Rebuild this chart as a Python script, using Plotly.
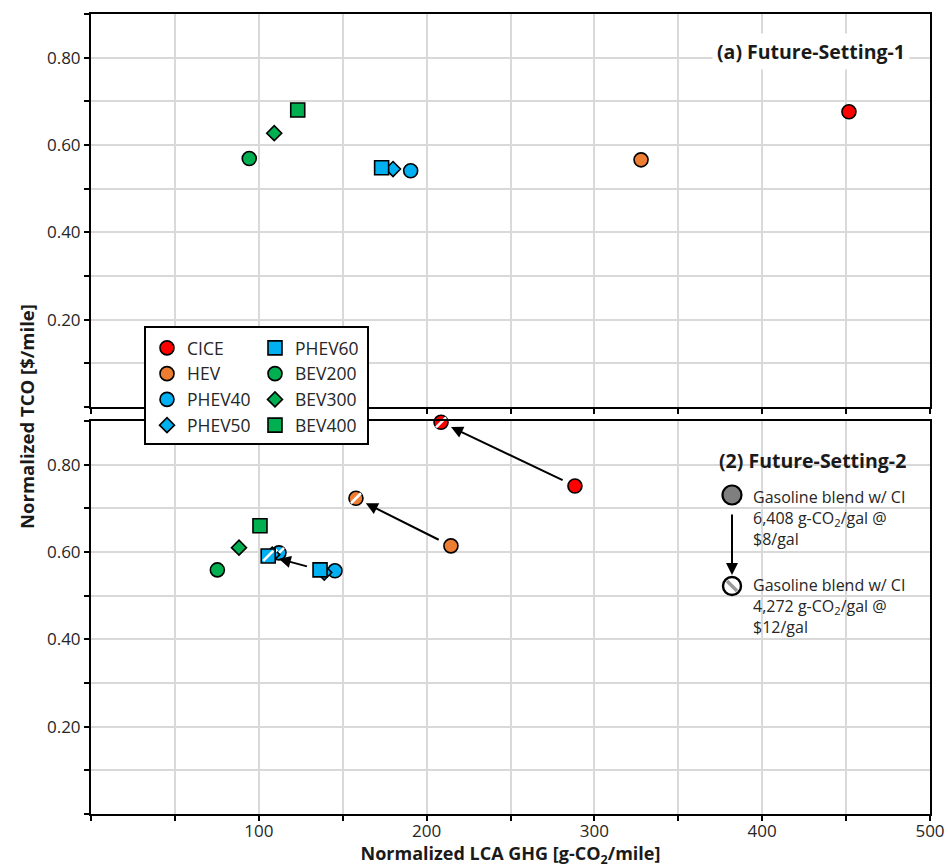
import plotly.graph_objects as go
from plotly.subplots import make_subplots

# ---------------- data ----------------
vehicles = ["CICE", "HEV", "PHEV40", "PHEV50", "PHEV60", "BEV200", "BEV300", "BEV400"]
colors = ["#FF0000", "#ED7D31", "#00B0F0", "#00B0F0", "#00B0F0", "#00B050", "#00B050", "#00B050"]
symbols = ["circle", "circle", "circle", "diamond", "square", "circle", "diamond", "square"]

# (a) Future-Setting-1
fs1_ghg = [451.7, 327.8, 190.5, 180.0, 173.2, 94.3, 109.2, 123.2]
fs1_tco = [0.676, 0.566, 0.541, 0.545, 0.548, 0.569, 0.627, 0.680]

# (2) Future-Setting-2, gasoline blend CI 6,408 g-CO2/gal @ $8/gal
fs2_ghg = [288.4, 214.5, 145.4, 139.0, 136.5, 75.3, 88.2, 100.7]
fs2_tco = [0.751, 0.614, 0.557, 0.553, 0.559, 0.559, 0.610, 0.660]

# (2) Future-Setting-2, gasoline blend CI 4,272 g-CO2/gal @ $12/gal (hatched)
blend_vehicles = ["CICE", "HEV", "PHEV40", "PHEV50", "PHEV60"]
blend_ghg = [208.6, 157.9, 112.0, 108.0, 105.6]
blend_tco = [0.897, 0.723, 0.598, 0.594, 0.591]

arrow_vehicles = ["CICE", "HEV", "PHEV60"]

x_tickvals = [0, 50, 100, 150, 200, 250, 300, 350, 400, 450, 500]
x_ticktext = ["", "", "100", "", "200", "", "300", "", "400", "", "500"]
y_tickvals = [0, 0.1, 0.2, 0.3, 0.4, 0.5, 0.6, 0.7, 0.8, 0.9]
y_ticktext = ["", "", "0.20", "", "0.40", "", "0.60", "", "0.80", ""]

legend1_names = ["CICE", "HEV", "PHEV40", "PHEV50"]

# ---------------- figure ----------------
W, H = 948, 868
ML, MR, MT, MB = 91, 18, 14, 54
PW, PH = W - ML - MR, H - MT - MB


def px_x(p):
    return (p - ML) / PW


def px_y(p):
    return (H - MB - p) / PH


fig = make_subplots(rows=2, cols=1)

marker_size = {"circle": 14, "square": 14, "diamond": 11.5}

for i, v in enumerate(vehicles):
    leg = "legend" if v in legend1_names else "legend2"
    mk = dict(color=colors[i], symbol=symbols[i], size=marker_size[symbols[i]],
              line=dict(color="black", width=1.6))
    fig.add_trace(go.Scatter(x=[fs1_ghg[i]], y=[fs1_tco[i]], mode="markers", name=v,
                             marker=mk, legend=leg, showlegend=True, cliponaxis=False),
                  row=1, col=1)
    fig.add_trace(go.Scatter(x=[fs2_ghg[i]], y=[fs2_tco[i]], mode="markers", name=v,
                             marker=mk, showlegend=False, cliponaxis=False),
                  row=2, col=1)

for j, v in enumerate(blend_vehicles):
    i = vehicles.index(v)
    mk = dict(color=colors[i], symbol=symbols[i], size=marker_size[symbols[i]],
              line=dict(color="black", width=1.6))
    fig.add_trace(go.Scatter(x=[blend_ghg[j]], y=[blend_tco[j]], mode="markers", name=v,
                             marker=mk, showlegend=False, cliponaxis=False),
                  row=2, col=1)
    fig.add_trace(go.Scatter(x=[blend_ghg[j]], y=[blend_tco[j]], mode="markers", name=v,
                             marker=dict(symbol="line-ne", size=10, color="white",
                                         line=dict(color="white", width=2.6)),
                             showlegend=False, cliponaxis=False, hoverinfo="skip"),
                  row=2, col=1)

annotations = []
for v in arrow_vehicles:
    i = vehicles.index(v)
    j = blend_vehicles.index(v)
    annotations.append(dict(
        x=blend_ghg[j], y=blend_tco[j], ax=fs2_ghg[i], ay=fs2_tco[i],
        xref="x2", yref="y2", axref="x2", ayref="y2", text="", showarrow=True,
        arrowhead=2, arrowsize=1.2, arrowwidth=2, arrowcolor="black",
        standoff=11, startstandoff=12))

font_family = "Open Sans"

annotations += [
    dict(text="<b>(a) Future-Setting-1</b>", x=px_x(811), y=px_y(51), xref="paper", yref="paper",
         xanchor="center", yanchor="middle",
         showarrow=False, font=dict(size=19.5, color="#1a1a1a"), bgcolor="white", borderpad=4),
    dict(text="<b>(2) Future-Setting-2</b>", x=px_x(812), y=px_y(460), xref="paper", yref="paper",
         xanchor="center", yanchor="middle",
         showarrow=False, font=dict(size=19.5, color="#1a1a1a")),
    dict(text="Gasoline blend w/ CI<br>6,408 g-CO<sub>2</sub>/gal @<br>$8/gal",
         x=px_x(751), y=px_y(518), xref="paper", yref="paper", xanchor="left", yanchor="middle",
         align="left", showarrow=False, font=dict(size=16, color="#262626")),
    dict(text="Gasoline blend w/ CI<br>4,272 g-CO<sub>2</sub>/gal @<br>$12/gal",
         x=px_x(751), y=px_y(606), xref="paper", yref="paper", xanchor="left", yanchor="middle",
         align="left", showarrow=False, font=dict(size=16, color="#262626")),
    dict(text="", x=px_x(732), y=px_y(575), xref="paper", yref="paper", ax=0, ay=-62,
         showarrow=True, arrowhead=2, arrowsize=1.2, arrowwidth=2, arrowcolor="black"),
    dict(text="<b>Normalized TCO [$/mile]</b>", x=px_x(27), y=px_y(417), xref="paper", yref="paper",
         xanchor="center", yanchor="middle",
         textangle=-90, showarrow=False, font=dict(size=18.5, color="#1a1a1a")),
]

shapes = [
    # white key area in panel 2
    dict(type="rect", xref="paper", yref="paper", x0=px_x(707), x1=px_x(918),
         y0=px_y(638), y1=px_y(433), fillcolor="white", line=dict(width=0), layer="between"),
    # key markers
    dict(type="circle", xref="paper", yref="paper", xsizemode="pixel", ysizemode="pixel",
         xanchor=px_x(732), yanchor=px_y(495), x0=-9.5, x1=9.5, y0=-9.5, y1=9.5,
         fillcolor="#7f7f7f", line=dict(color="black", width=2.2), layer="above"),
    dict(type="circle", xref="paper", yref="paper", xsizemode="pixel", ysizemode="pixel",
         xanchor=px_x(732), yanchor=px_y(586), x0=-9, x1=9, y0=-9, y1=9,
         fillcolor="white", line=dict(color="black", width=2.4), layer="above"),
    dict(type="line", xref="paper", yref="paper", xsizemode="pixel", ysizemode="pixel",
         xanchor=px_x(732), yanchor=px_y(586), x0=-5, x1=5, y0=5, y1=-5,
         line=dict(color="#999999", width=3.5), layer="above"),
    # legend box
    dict(type="rect", xref="paper", yref="paper", x0=px_x(145), x1=px_x(368),
         y0=px_y(444), y1=px_y(327), fillcolor="white", line=dict(color="black", width=2),
         layer="above"),
]

axis_common = dict(showline=True, linecolor="black", linewidth=2, mirror=True,
                   ticks="outside", ticklen=5, tickwidth=1.5, tickcolor="black",
                   showgrid=True, gridcolor="#d9d9d9", gridwidth=1.5, zeroline=False,
                   automargin=False, tickfont=dict(size=17, color="#262626"))

fig.update_xaxes(range=[0, 500], tickmode="array", tickvals=x_tickvals, ticktext=x_ticktext,
                 **axis_common)
fig.update_xaxes(showticklabels=False, row=1, col=1)
fig.update_xaxes(title=dict(text="<b>Normalized LCA GHG [g-CO<sub>2</sub>/mile]</b>",
                            font=dict(size=18, color="#1a1a1a"), standoff=0),
                 ticklabelstandoff=-4, row=2, col=1)
fig.update_yaxes(range=[0, 0.9], tickmode="array", tickvals=y_tickvals, ticktext=y_ticktext,
                 **axis_common)
fig.update_yaxes(domain=[px_y(407), 1.0], row=1, col=1)
fig.update_yaxes(domain=[0.0, px_y(421)], row=2, col=1)

legend_common = dict(xanchor="left", yanchor="top", bgcolor="rgba(0,0,0,0)", borderwidth=0,
                     font=dict(size=17.5, color="#262626"), itemsizing="trace",
                     tracegroupgap=0)

fig.update_layout(
    width=W, height=H, autosize=False,
    margin=dict(l=ML, r=MR, t=MT, b=MB),
    plot_bgcolor="white", paper_bgcolor="white",
    font=dict(family=font_family, color="#262626"),
    annotations=annotations,
    shapes=shapes,
    legend=dict(x=px_x(147), y=px_y(330), **legend_common),
    legend2=dict(x=px_x(255), y=px_y(330), **legend_common),
)

fig.write_html(
    "out.html",
    config={"responsive": False, "displayModeBar": False},
    post_script="document.body.style.margin='0px';document.body.style.overflow='hidden';"
                "document.documentElement.style.overflow='hidden';",
)
